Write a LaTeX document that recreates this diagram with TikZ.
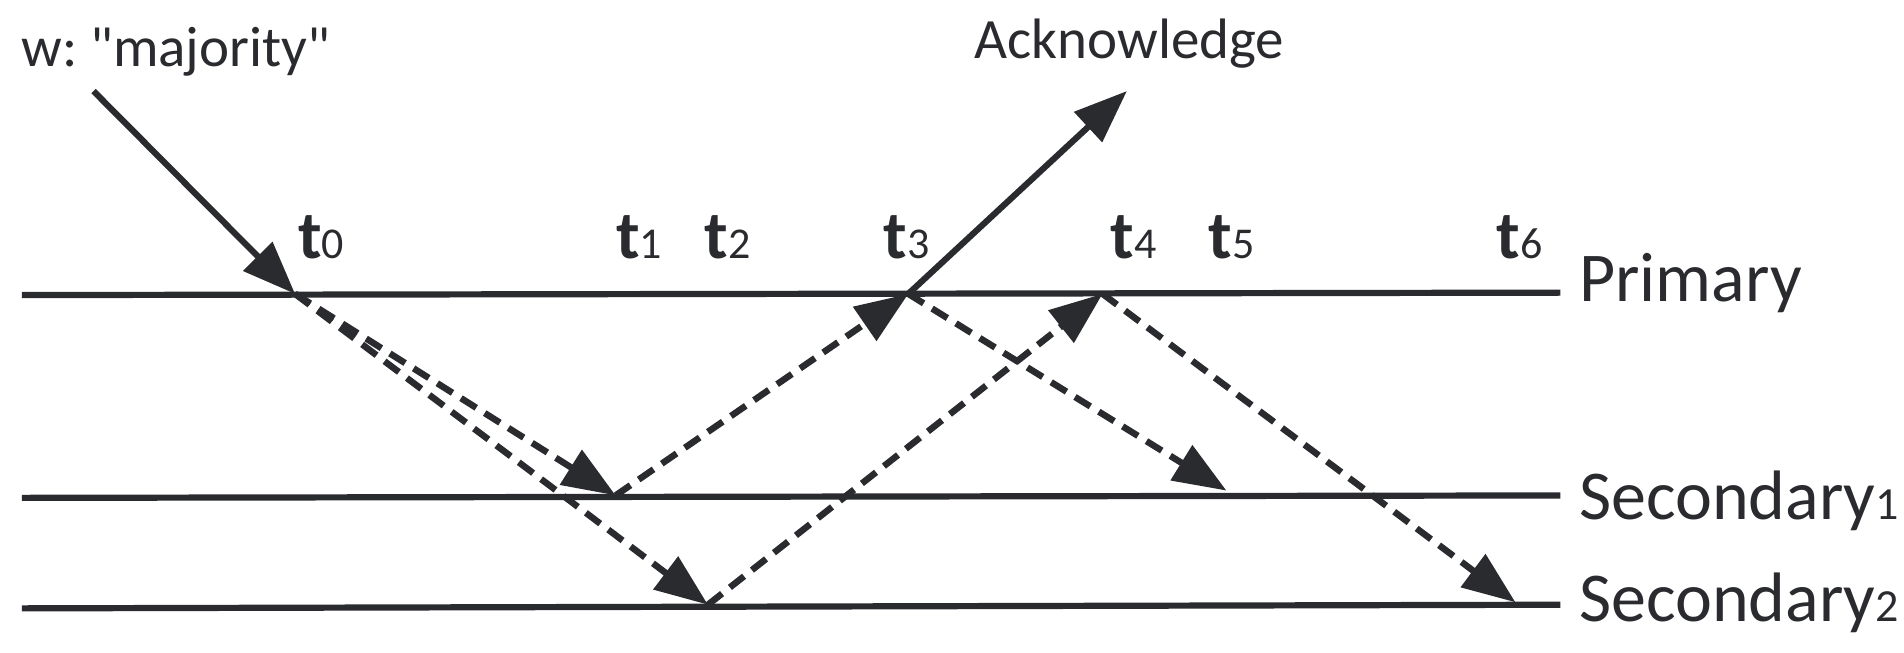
\documentclass[tikz,border=0pt]{standalone}
\usepackage{fontspec}
\setmainfont{Carlito}
\usetikzlibrary{arrows.meta}
\definecolor{ink}{HTML}{2A2B2F}
\newcommand{\tname}[1]{{\fontsize{68}{68}\selectfont\bfseries t}{\fontsize{44}{44}\selectfont #1}}
\newcommand{\idx}[1]{{\fontsize{46}{46}\selectfont #1}}
\frenchspacing

\begin{document}
\begin{tikzpicture}[x=1.2143pt,y=-1.2143pt,line width=6.2pt,draw=ink,text=ink,
    msg/.style={-{Triangle[length=53pt,width=40pt]}},
    rep/.style={msg,line width=6.5pt,dash pattern=on 18pt off 10pt},
    proc/.style={anchor=base west,inner sep=0pt,font=\fontsize{70}{70}\selectfont},
    note/.style={anchor=base west,inner sep=0pt,font=\fontsize{57}{57}\selectfont},
    tick/.style={anchor=base west,inner sep=0pt}]
    \useasboundingbox (0,0) rectangle (1568,537);
    \coordinate (pl) at (18,243);
    \coordinate (pr) at (1285,241);
    \coordinate (s1l) at (18,410);
    \coordinate (s1r) at (1285,408);
    \coordinate (s2l) at (18,501);
    \coordinate (s2r) at (1285,498);
    \coordinate (w) at (77,75);
    \coordinate (e0) at (243,242);
    \coordinate (a1) at (507,408);
    \coordinate (a2) at (583,498);
    \coordinate (e3) at (748,242);
    \coordinate (e4) at (908,242);
    \coordinate (ack) at (928,75);
    \coordinate (b1) at (1010,404);
    \coordinate (b2) at (1248,496);
    \draw (pl)--(pr);
    \draw (s1l)--(s1r);
    \draw (s2l)--(s2r);
    \node[proc] (prim) at (1298,248) {Primary};
    \node[proc] (sec1) at (1298,428) {Secondary\idx{1}};
    \node[proc] (sec2) at (1298,512) {Secondary\idx{2}};
    \node[note] (wlab) at (15,55) {w: \textquotedbl majority\textquotedbl};
    \node[note] (acklab) at (800,48) {Acknowledge};
    \node[tick] (t0) at (243,213) {\tname{0}};
    \node[tick] (t1) at (505,213) {\tname{1}};
    \node[tick] (t2) at (578,213) {\tname{2}};
    \node[tick] (t3) at (725,213) {\tname{3}};
    \node[tick] (t4) at (912,213) {\tname{4}};
    \node[tick] (t5) at (993,213) {\tname{5}};
    \node[tick] (t6) at (1230,213) {\tname{6}};
    \draw[msg] (w)--(e0);
    \draw[msg] (e3)--(ack);
    \draw[rep] (e0)--(a1);
    \draw[rep] (e0)--(a2);
    \draw[rep] (a1)--(e3);
    \draw[rep] (a2)--(e4);
    \draw[rep] (e3)--(b1);
    \draw[rep] (e4)--(b2);
\end{tikzpicture}
\end{document}
